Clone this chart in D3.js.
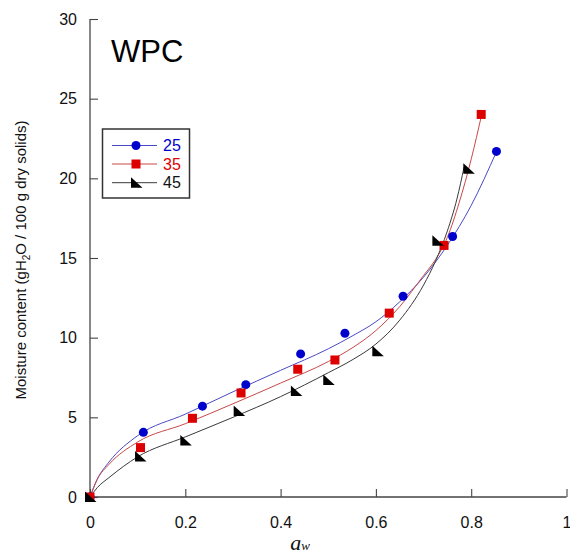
<!DOCTYPE html>
<html>
<head>
<meta charset="utf-8">
<script src="https://cdn.jsdelivr.net/npm/d3@7"></script>
<style>
  html, body { margin: 0; padding: 0; background: #fff; }
  svg { display: block; font-family: Arial, "Liberation Sans", sans-serif; }
</style>
</head>
<body>
<svg id="chart" width="570" height="555"></svg>
<script>
// Sorption isotherms of WPC at three temperatures (°C)
const temperatures = ["25", "35", "45"];
const colors = ["#0000cc", "#dd0000", "#000000"];
const lineColors = ["#4a4ac4", "#c84848", "#3a3a3a"];

// Measured points: water activity and moisture content (g H2O / 100 g dry solids)
const aw25 = [0, 0.112, 0.236, 0.327, 0.442, 0.535, 0.657, 0.761, 0.853];
const m25  = [0, 4.06, 5.70, 7.05, 8.98, 10.28, 12.6, 16.35, 21.69];
const aw35 = [0, 0.106, 0.215, 0.317, 0.436, 0.514, 0.628, 0.743, 0.821];
const m35  = [0, 3.10, 4.94, 6.53, 8.02, 8.60, 11.54, 15.79, 24.01];
const aw45 = [0, 0.105, 0.200, 0.312, 0.432, 0.500, 0.603, 0.729, 0.794];
const m45  = [0, 2.54, 3.55, 5.40, 6.66, 7.35, 9.14, 16.08, 20.60];

// Fitted isotherm curves, sampled along aw
const fitAw25 = [0, 0.015, 0.04, 0.1, 0.2, 0.3, 0.4, 0.5, 0.55, 0.6, 0.65, 0.7, 0.75, 0.8, 0.8535];
const fitM25  = [0, 1.1, 2.2, 3.85, 5.2, 6.6, 7.95, 9.3, 10.1, 11.0, 12.25, 13.8, 15.8, 18.3, 21.7];
const fitAw35 = [0, 0.015, 0.04, 0.1, 0.2, 0.3, 0.4, 0.5, 0.55, 0.6, 0.65, 0.7, 0.725, 0.75, 0.775, 0.8, 0.822];
const fitM35  = [0, 1.1, 2.05, 3.45, 4.6, 5.85, 7.15, 8.5, 9.35, 10.45, 11.95, 13.9, 14.9, 16.3, 18.5, 21.2, 24.0];
const fitAw45 = [0, 0.015, 0.04, 0.1, 0.2, 0.3, 0.4, 0.5, 0.55, 0.6, 0.65, 0.7, 0.725, 0.75, 0.77, 0.785];
const fitM45  = [0, 0.58, 1.22, 2.52, 3.77, 5.0, 6.3, 7.8, 8.6, 9.6, 11.1, 13.3, 14.8, 16.7, 18.7, 20.7];

const xTicks = [0, 0.2, 0.4, 0.6, 0.8, 1];
const yTicks = [0, 5, 10, 15, 20, 25, 30];

const svg = d3.select("#chart");
const x = d3.scaleLinear().domain([0, 1]).range([90, 566.5]);
const y = d3.scaleLinear().domain([0, 30]).range([497, 19]);
const axisColor = "#454545";

const series = [
  { pts: d3.zip(aw25, m25), fit: d3.zip(fitAw25, fitM25), shape: "circle" },
  { pts: d3.zip(aw35, m35), fit: d3.zip(fitAw35, fitM35), shape: "square" },
  { pts: d3.zip(aw45, m45), fit: d3.zip(fitAw45, fitM45), shape: "tri" }
];

// Axes with inward ticks
const xAxis = svg.append("g").attr("transform", `translate(0,${y(0)})`)
  .call(d3.axisTop(x).tickValues(xTicks).tickSize(8).tickFormat(d3.format("~g")));
xAxis.select(".domain").attr("stroke", axisColor).attr("stroke-width", 1.3).attr("d", `M${x(0)},0H${x(1)}`);
xAxis.selectAll(".tick line").attr("stroke", axisColor).attr("stroke-width", 1.1);
xAxis.selectAll(".tick text").attr("y", 20).attr("dy", "0.71em")
  .attr("font-size", 16).attr("fill", "#111").attr("font-family", "Arial, 'Liberation Sans', sans-serif");

const yAxis = svg.append("g").attr("transform", `translate(${x(0)},0)`)
  .call(d3.axisRight(y).tickValues(yTicks).tickSize(8));
yAxis.select(".domain").attr("stroke", axisColor).attr("stroke-width", 1.3).attr("d", `M0,${y(0)}V${y(30)}`);
yAxis.selectAll(".tick line").attr("stroke", axisColor).attr("stroke-width", 1.1);
yAxis.selectAll(".tick text").attr("x", -13).attr("text-anchor", "end")
  .attr("font-size", 16).attr("fill", "#111").attr("font-family", "Arial, 'Liberation Sans', sans-serif");

// Fitted curves
const line = d3.line().x(d => x(d[0])).y(d => y(d[1])).curve(d3.curveMonotoneX);
series.forEach((s, i) => {
  svg.append("path").attr("d", line(s.fit)).attr("fill", "none")
    .attr("stroke", lineColors[i]).attr("stroke-width", 1);
});

// Marker shapes
function marker(g, shape, color) {
  if (shape === "circle") {
    g.append("circle").attr("r", 4.5).attr("fill", color);
  } else if (shape === "square") {
    g.append("rect").attr("x", -4.5).attr("y", -4.5).attr("width", 9).attr("height", 9).attr("fill", color);
  } else {
    g.append("path").attr("d", "M-5,-5.5L-5,5L6.5,5Z").attr("fill", color);
  }
}

series.forEach((s, i) => {
  s.pts.forEach(p => {
    const g = svg.append("g").attr("transform", `translate(${x(p[0])},${y(p[1])})`);
    marker(g, s.shape, colors[i]);
  });
});

// Legend
const legend = svg.append("g");
legend.append("rect").attr("x", 102.5).attr("y", 129).attr("width", 87).attr("height", 69)
  .attr("fill", "#fff").attr("stroke", "#333").attr("stroke-width", 1.5);
const rowY = [145.5, 164, 182.7];
series.forEach((s, i) => {
  legend.append("line").attr("x1", 112).attr("x2", 157).attr("y1", rowY[i]).attr("y2", rowY[i])
    .attr("stroke", lineColors[i]).attr("stroke-width", 1);
  const g = legend.append("g").attr("transform", `translate(136,${rowY[i]})`);
  marker(g, s.shape, colors[i]);
  legend.append("text").attr("x", 163).attr("y", rowY[i]).attr("dy", "0.36em")
    .attr("font-size", 16).attr("fill", i === 2 ? "#111" : colors[i]).text(temperatures[i]);
});

// Title
svg.append("text").attr("x", 111).attr("y", 62).attr("font-size", 31).attr("fill", "#000").text("WPC");

// Axis titles
const yt = svg.append("text").attr("transform", "translate(26,260) rotate(-90)")
  .attr("text-anchor", "middle").attr("font-size", 15).attr("fill", "#111");
yt.append("tspan").text("Moisture content (gH");
yt.append("tspan").attr("font-size", 10).attr("dy", 4).text("2");
yt.append("tspan").attr("dy", -4).text("O / 100 g dry solids)");

const xt = svg.append("text").attr("x", 300).attr("y", 550).attr("text-anchor", "middle").attr("fill", "#111");
xt.append("tspan").attr("font-family", "'Liberation Serif', 'DejaVu Serif', serif")
  .attr("font-style", "italic").attr("font-size", 22).text("a");
xt.append("tspan").attr("font-size", 13).attr("font-style", "italic")
  .attr("font-family", "'Liberation Serif', 'DejaVu Serif', serif").text("w");
</script>
</body>
</html>
